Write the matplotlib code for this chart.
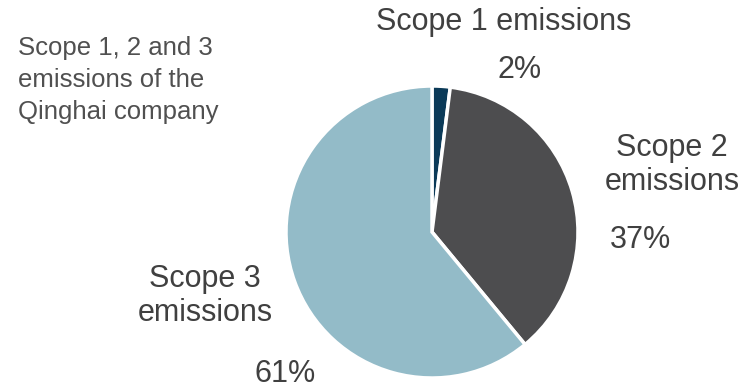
import matplotlib
matplotlib.use("Agg")
import matplotlib.pyplot as plt

plt.rcParams['font.family'] = ['Liberation Sans', 'DejaVu Sans']

# data
scopes = ["Scope 1 emissions", "Scope 2\nemissions", "Scope 3\nemissions"]
shares = [2, 37, 61]
colors = ["#0b3a58", "#4d4d4f", "#93bbc8"]
title = "Scope 1, 2 and 3\nemissions of the\nQinghai company"

W, H = 741, 389
fig = plt.figure(figsize=(W / 100, H / 100), dpi=100)

# pie placed by pixel box: center (432, 232), radius 146
cx, cy, r = 432, 232, 146
ax = fig.add_axes([(cx - r) / W, (H - cy - r) / H, 2 * r / W, 2 * r / H])
ax.pie(shares, colors=colors, startangle=90, counterclock=False,
       wedgeprops=dict(edgecolor="white", linewidth=2.5))
ax.set_xlim(-1, 1)
ax.set_ylim(-1, 1)
ax.set_aspect("auto")
ax.axis("off")

def px(x, y):
    return x / W, 1 - y / H

lab_col = "#404040"
fs = 22
label_pos = [(504, 22), (672, 165), (205, 296)]
pct_pos = [(520, 70), (640, 240), (285, 374)]
for name, val, lp, pp in zip(scopes, shares, label_pos, pct_pos):
    fig.text(*px(*lp), name, ha="center", va="center", fontsize=fs,
             color=lab_col, linespacing=1.2)
    fig.text(*px(*pp), f"{val}%", ha="center", va="center", fontsize=fs,
             color=lab_col)

fig.text(*px(18, 80), title, ha="left", va="center", fontsize=18.5,
         color="#505050", linespacing=1.42)

fig.savefig("out.png", dpi=100)
